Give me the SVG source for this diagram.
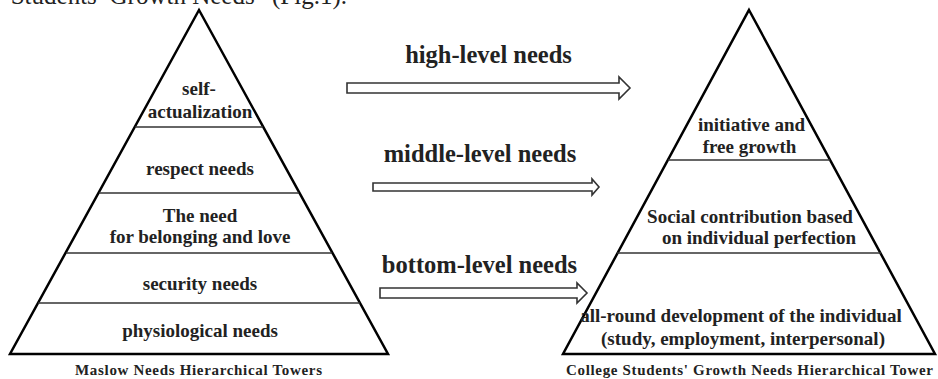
<svg xmlns="http://www.w3.org/2000/svg" width="938" height="379" viewBox="0 0 938 379">
<style>
.t{font-family:"Liberation Serif","Times New Roman",serif;font-weight:bold;fill:#222;text-anchor:middle}
.in{font-size:19px}
.lbl{font-size:24.5px}
.cap{font-size:15px}
.pyr{fill:#fff;stroke:#000;stroke-width:2.5;stroke-linejoin:miter}
.div{stroke:#333;stroke-width:1.6;fill:none}
.arr{fill:#fff;stroke:#333;stroke-width:1.6}
</style>
<rect width="938" height="379" fill="#fff"/>
<text x="347" y="4" font-family="Liberation Serif, serif" font-size="25" fill="#222" text-anchor="end">Students’ Growth Needs” (Fig.1).</text>

<g id="maslow">
<polygon class="pyr" points="199,10 388,354 10,354"/>
<line class="div" x1="135" y1="127" x2="263" y2="127"/>
<line class="div" x1="99" y1="193" x2="299" y2="193"/>
<line class="div" x1="66" y1="253" x2="332" y2="253"/>
<line class="div" x1="38" y1="303" x2="360" y2="303"/>
<text class="t in" x="199" y="95">self-</text>
<text class="t in" x="200" y="118">actualization</text>
<text class="t in" x="200" y="175">respect needs</text>
<text class="t in" x="200" y="222">The need</text>
<text class="t in" x="200" y="243">for belonging and love</text>
<text class="t in" x="200" y="290">security needs</text>
<text class="t in" x="200" y="337">physiological needs</text>
<text class="t cap" x="198.5" y="375" textLength="247" lengthAdjust="spacing">Maslow Needs Hierarchical Towers</text>
</g>

<g id="college">
<polygon class="pyr" points="749,10 935,354 563,354"/>
<line class="div" x1="668" y1="160" x2="830" y2="160"/>
<line class="div" x1="617" y1="253" x2="881" y2="253"/>
<text class="t in" x="751.5" y="131">initiative and</text>
<text class="t in" x="749.5" y="153">free growth</text>
<text class="t in" x="750" y="223">Social contribution based</text>
<text class="t in" x="759" y="244">on individual perfection</text>
<text class="t in" x="741" y="322">all-round development of the individual</text>
<text class="t in" x="743" y="345">(study, employment, interpersonal)</text>
<text class="t cap" x="749.5" y="375" textLength="367" lengthAdjust="spacing">College Students' Growth Needs Hierarchical Tower</text>
</g>

<g id="connectors">
<g id="arrow-high">
<polygon class="arr" points="347,83 619,83 619,77 630,88 619,99 619,93 347,93"/>
<text class="t lbl" x="488.5" y="63">high-level needs</text>
</g>
<g id="arrow-middle">
<polygon class="arr" points="373,183 592,183 592,179 599,187 592,195 592,191 373,191"/>
<text class="t lbl" x="480" y="162">middle-level needs</text>
</g>
<g id="arrow-bottom">
<polygon class="arr" points="380,288 577,288 577,283 587,293 577,303 577,298 380,298"/>
<text class="t lbl" x="479.5" y="273">bottom-level needs</text>
</g>
</g>
</svg>
